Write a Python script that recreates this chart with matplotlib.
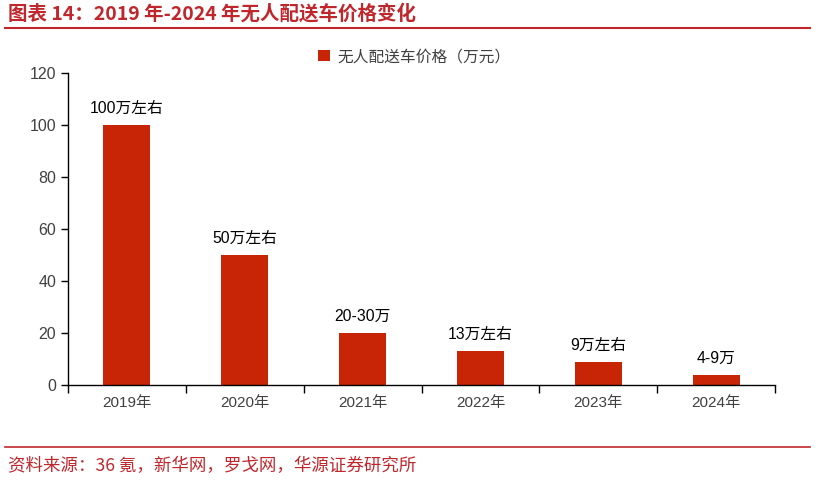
import matplotlib
matplotlib.use("Agg")
import matplotlib.pyplot as plt
from matplotlib.lines import Line2D

plt.rcParams['font.family'] = ['Noto Sans CJK SC', 'DejaVu Sans']

years = ["2019年", "2020年", "2021年", "2022年", "2023年", "2024年"]
prices = [100, 50, 20, 13, 9, 4]
labels = ["100万左右", "50万左右", "20-30万", "13万左右", "9万左右", "4-9万"]
series_name = "无人配送车价格（万元）"
yticks = [0, 20, 40, 60, 80, 100, 120]

bar_color = "#C82506"
red = "#C0272D"

fig = plt.figure(figsize=(8.15, 4.80), dpi=100)
ax = fig.add_axes([68/815, 1-385/480, (775-68)/815, (385-73)/480])

x = list(range(len(years)))
bars = ax.bar(x, prices, width=0.4, color=bar_color, label=series_name, zorder=2)
for xi, v, lab in zip(x, prices, labels):
    ax.text(xi, v + 3.5, lab, ha='center', va='bottom', fontsize=11.3, color='black',
            family=['Liberation Sans', 'Noto Sans CJK SC'])

ax.set_xlim(-0.5, len(years) - 0.5)
ax.set_ylim(0, 120)
ax.set_yticks(yticks)
ax.set_yticklabels([str(t) for t in yticks], fontsize=11.5, color='#404040',
                   family=['Liberation Sans'])
ax.set_xticks(x)
ax.set_xticklabels(years, fontsize=11, color='#404040',
                   family=['Liberation Sans', 'Noto Sans CJK SC'])
ax.tick_params(axis='x', length=0, pad=8)
ax.set_xticks([i - 0.5 for i in range(len(years) + 1)], minor=True)
ax.tick_params(axis='x', which='minor', length=6, width=1, direction='out')
ax.tick_params(axis='y', length=5, width=1, direction='out')
for s in ['top', 'right']:
    ax.spines[s].set_visible(False)
ax.spines['left'].set_linewidth(1)
ax.spines['bottom'].set_linewidth(1)

leg = ax.legend(loc='upper center', bbox_to_anchor=(0.49, 1.125), frameon=False,
                fontsize=11.3, handlelength=0.75, handleheight=0.75, handletextpad=0.5)
for t in leg.get_texts():
    t.set_color('#404040')

fig.text(8/815, 1-14/480, "图表 14：2019 年-2024 年无人配送车价格变化", fontsize=14,
         fontweight='bold', color=red, va='center', ha='left')
fig.add_artist(Line2D([5/815, 810/815], [1-28/480, 1-28/480], color=red, lw=1.5))
fig.add_artist(Line2D([5/815, 810/815], [1-447/480, 1-447/480], color=red, lw=1.2))
fig.text(8/815, 1-466/480, "资料来源：36 氪，新华网，罗戈网，华源证券研究所", fontsize=12.6,
         color=red, va='center', ha='left')

fig.savefig("out.png", dpi=100)
